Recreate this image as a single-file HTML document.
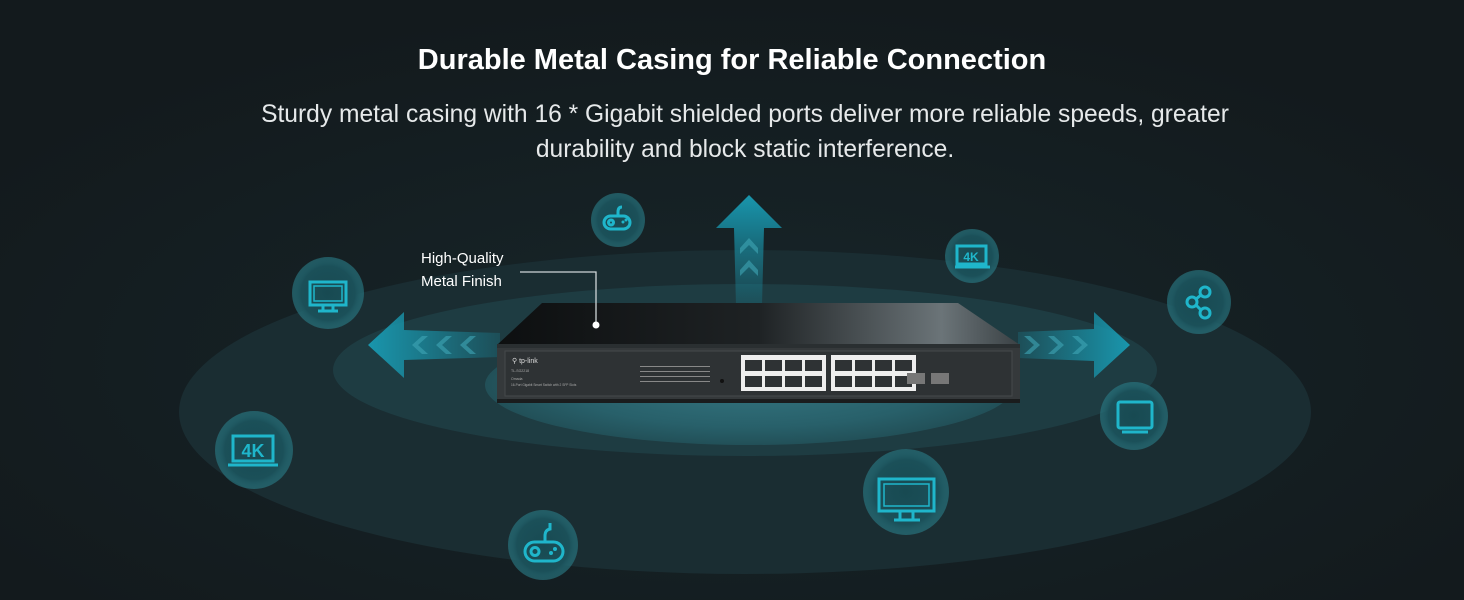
<!DOCTYPE html>
<html><head><style>
html,body{margin:0;padding:0;background:#151d20;}
body{width:1464px;height:600px;overflow:hidden;position:relative;font-family:"Liberation Sans",sans-serif;}
.t{position:absolute;left:0;width:1464px;text-align:center;color:#fff;}
</style></head><body>
<svg width="1464" height="600" style="position:absolute;left:0;top:0">
<defs>
<radialGradient id="bg" cx="50%" cy="60%" r="60%"><stop offset="0" stop-color="#17262a"/><stop offset="1" stop-color="#131a1d"/></radialGradient>
<radialGradient id="inner" cx="50%" cy="50%" r="50%"><stop offset="0" stop-color="#347580"/><stop offset="0.7" stop-color="#28606a"/><stop offset="1" stop-color="#225058"/></radialGradient>
<radialGradient id="ic" cx="50%" cy="50%" r="50%"><stop offset="0" stop-color="#184a52"/><stop offset="0.75" stop-color="#1b5059"/><stop offset="1" stop-color="#2a7d88" stop-opacity="0.6"/></radialGradient>
<linearGradient id="top" x1="0" y1="0" x2="1" y2="0"><stop offset="0" stop-color="#0d0f10"/><stop offset="0.5" stop-color="#1e2224"/><stop offset="0.85" stop-color="#6b7478"/><stop offset="1" stop-color="#3a4144"/></linearGradient>
<linearGradient id="arL" x1="0" y1="0" x2="1" y2="0"><stop offset="0" stop-color="#1996ad"/><stop offset="1" stop-color="#1996ad" stop-opacity="0.2"/></linearGradient>
<linearGradient id="arR" x1="1" y1="0" x2="0" y2="0"><stop offset="0" stop-color="#1996ad"/><stop offset="1" stop-color="#1996ad" stop-opacity="0.2"/></linearGradient>
<linearGradient id="arU" x1="0" y1="0" x2="0" y2="1"><stop offset="0" stop-color="#1996ad"/><stop offset="1" stop-color="#1996ad" stop-opacity="0.2"/></linearGradient>
</defs>
<rect width="1464" height="600" fill="url(#bg)"/>
<ellipse cx="745" cy="412" rx="566" ry="162" fill="#1a2d32"/>
<ellipse cx="745" cy="370" rx="412" ry="86" fill="#1e3c42"/>
<ellipse cx="750" cy="385" rx="265" ry="60" fill="url(#inner)"/>
<polygon points="368,345 404,312 404,330 500,333 500,357 404,360 404,378" fill="url(#arL)"/>
<g fill="#3fa6b6" opacity="0.6"><polygon points="412,345 422,336 428,336 418,345 428,354 422,354"/><polygon points="436,345 446,336 452,336 442,345 452,354 446,354"/><polygon points="460,345 470,336 476,336 466,345 476,354 470,354"/></g>
<polygon points="1130,345 1094,312 1094,329 1018,332 1018,358 1094,361 1094,378" fill="url(#arR)"/>
<g fill="#3fa6b6" opacity="0.6"><polygon points="1034,345 1024,336 1030,336 1040,345 1030,354 1024,354"/><polygon points="1058,345 1048,336 1054,336 1064,345 1054,354 1048,354"/><polygon points="1082,345 1072,336 1078,336 1088,345 1078,354 1072,354"/></g>
<polygon points="749,195 782,228 764,228 762,305 736,305 734,228 716,228" fill="url(#arU)"/>
<g fill="#3fa6b6" opacity="0.6"><polygon points="749,238 740,248 740,254 749,245 758,254 758,248"/><polygon points="749,260 740,270 740,276 749,267 758,276 758,270"/></g>
<polygon points="542,303 958,303 1020,345 497,345" fill="url(#top)"/>
<rect x="497" y="344" width="523" height="5" fill="#2a2f31"/>
<rect x="497" y="348" width="523" height="52" fill="#35393b"/>
<rect x="505" y="351" width="507" height="45" fill="#2e3234" stroke="#45494b"/>
<rect x="497" y="399" width="523" height="4" fill="#1a1c1d"/>
<text x="512" y="363" font-size="7" fill="#ddd" font-family="Liberation Sans">⚲ tp-link</text>
<text x="511" y="372" font-size="3.5" fill="#aaa" font-family="Liberation Sans">TL-SG2218</text>
<text x="511" y="380" font-size="3.5" fill="#aaa" font-family="Liberation Sans">Omada</text>
<text x="511" y="386" font-size="3.2" fill="#aaa" font-family="Liberation Sans">16-Port Gigabit Smart Switch with 2 SFP Slots</text>
<g fill="#888"><rect x="640" y="366" width="70" height="1"/><rect x="640" y="371" width="70" height="1"/><rect x="640" y="376" width="70" height="1"/><rect x="640" y="381" width="70" height="1"/></g>
<circle cx="722" cy="381" r="2" fill="#111"/>
<g fill="#eee"><rect x="741" y="355" width="85" height="36"/><rect x="831" y="355" width="85" height="36"/></g>
<g fill="#2e3234">
<rect x="745" y="360" width="17" height="11"/><rect x="765" y="360" width="17" height="11"/><rect x="785" y="360" width="17" height="11"/><rect x="805" y="360" width="17" height="11"/>
<rect x="745" y="376" width="17" height="11"/><rect x="765" y="376" width="17" height="11"/><rect x="785" y="376" width="17" height="11"/><rect x="805" y="376" width="17" height="11"/>
<rect x="835" y="360" width="17" height="11"/><rect x="855" y="360" width="17" height="11"/><rect x="875" y="360" width="17" height="11"/><rect x="895" y="360" width="17" height="11"/>
<rect x="835" y="376" width="17" height="11"/><rect x="855" y="376" width="17" height="11"/><rect x="875" y="376" width="17" height="11"/><rect x="895" y="376" width="17" height="11"/>
</g>
<rect x="907" y="373" width="18" height="11" fill="#777"/><rect x="931" y="373" width="18" height="11" fill="#777"/>
<polyline points="520,272 596,272 596,324" fill="none" stroke="#cfd6d8" stroke-width="1.3"/>
<circle cx="596" cy="325" r="3.5" fill="#fff"/>
<g fill="url(#ic)">
<circle cx="618" cy="220" r="27"/><circle cx="328" cy="293" r="36"/><circle cx="254" cy="450" r="39"/><circle cx="543" cy="545" r="35"/>
<circle cx="972" cy="256" r="27"/><circle cx="1199" cy="302" r="32"/><circle cx="1134" cy="416" r="34"/><circle cx="906" cy="492" r="43"/>
</g>
<g fill="none" stroke="#1fb6cb" stroke-width="3">
<rect x="604" y="216" width="26" height="13" rx="6.5"/><circle cx="611" cy="222.5" r="2.5"/><path d="M618 216 v-4 q0-5 4-5"/>
<rect x="310" y="282" width="36" height="23"/><rect x="314" y="286" width="28" height="15" stroke-width="1.5"/><path d="M323 305 v5 M333 305 v5 M318 311 h20"/>
<rect x="233" y="436" width="40" height="25"/><path d="M228 465 h50"/>
<rect x="525" y="542" width="38" height="19" rx="9.5"/><circle cx="535" cy="551.5" r="4"/><path d="M545 542 v-6 q0-6 5-7 v-6"/>
<rect x="957" y="246" width="29" height="18"/><path d="M955 267 h35"/>
<circle cx="1205" cy="292" r="5"/><circle cx="1192" cy="302" r="5"/><circle cx="1205" cy="313" r="5"/><path d="M1196 299 l5-4 M1196 305 l5 5"/>
<rect x="1118" y="402" width="34" height="26" rx="2"/><path d="M1122 432 h26"/>
<rect x="879" y="479" width="55" height="32"/><rect x="884" y="484" width="45" height="22" stroke-width="1.5"/><path d="M900 511 v8 M913 511 v8 M894 520 h26"/>
</g>
<g fill="#1fb6cb" font-family="Liberation Sans" font-weight="bold">
<text x="253" y="457" font-size="18" text-anchor="middle">4K</text>
<text x="971" y="261" font-size="12" text-anchor="middle">4K</text>
</g>
<g fill="#1fb6cb"><circle cx="623" cy="222" r="1.5"/><circle cx="626" cy="220" r="1.5"/><circle cx="551" cy="553" r="2"/><circle cx="555" cy="549" r="2"/></g>
<text x="421" y="263" font-size="15" fill="#fff" font-family="Liberation Sans">High-Quality</text>
<text x="421" y="286" font-size="15" fill="#fff" font-family="Liberation Sans">Metal Finish</text>
</svg>
<div class="t" style="top:44px;font-size:29px;font-weight:bold;">Durable Metal Casing for Reliable Connection</div>
<div class="t" style="top:97px;left:13px;font-size:24.6px;line-height:35px;color:#e6e9ea;">Sturdy metal casing with 16 * Gigabit shielded ports deliver more reliable speeds, greater<br>durability and block static interference.</div>
</body></html>
